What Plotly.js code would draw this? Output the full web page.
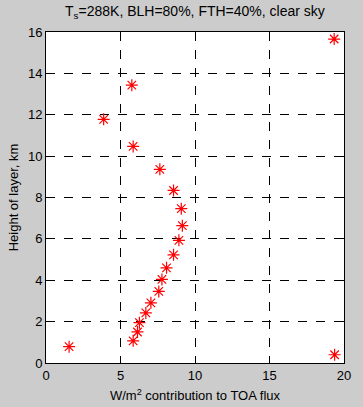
<!DOCTYPE html>
<html>
<head>
<meta charset="utf-8">
<script src="https://cdn.plot.ly/plotly-3.0.1.min.js"></script>
<style>html,body{margin:0;padding:0;background:#cccccc;}#chart{width:363px;height:407px;}</style>
</head>
<body>
<div id="chart"></div>
<script>
var contribution = [19.34, 5.76, 3.87, 5.85, 7.64, 8.56, 9.08, 9.15, 8.92, 8.56, 8.09, 7.78, 7.57, 7.04, 6.70, 6.27, 6.14, 5.85, 1.55, 19.37];
var layerHeight = [15.66, 13.43, 11.78, 10.47, 9.36, 8.34, 7.46, 6.64, 5.93, 5.23, 4.60, 4.04, 3.46, 2.91, 2.42, 1.95, 1.50, 1.07, 0.79, 0.40];
var xTicks = [0, 5, 10, 15, 20];
var yTicks = [0, 2, 4, 6, 8, 10, 12, 14, 16];

var fam = 'Liberation Sans, Arial, sans-serif';
var tickFont = {family: fam, size: 13, color: '#000'};
var labelFont = {family: fam, size: 13, color: '#000'};
var trace = {
  x: contribution, y: layerHeight, type: 'scatter', mode: 'markers',
  marker: {symbol: 'asterisk-open', size: 10, color: '#ff0000', line: {color: '#ff0000', width: 1.2}},
  hoverinfo: 'none'
};
var axisCommon = {
  showline: true, linecolor: '#000', linewidth: 1, mirror: 'ticks',
  ticks: 'inside', ticklen: 4, tickcolor: '#000',
  showgrid: true, gridcolor: '#000', griddash: 'dash', gridwidth: 1,
  zeroline: false, tickfont: tickFont, fixedrange: true
};
var layout = {
  width: 363, height: 407,
  margin: {l: 46, r: 19, t: 32, b: 44},
  paper_bgcolor: '#cccccc', plot_bgcolor: '#ffffff',
  showlegend: false,
  font: tickFont,
  title: {text: 'T<sub>s</sub>=288K, BLH=80%, FTH=40%, clear sky', font: {family: fam, size: 14, color: '#000'}, x: 0.537, xanchor: 'center', y: 0.972, yanchor: 'middle'},
  xaxis: Object.assign({}, axisCommon, {range: [0, 20], tickvals: xTicks, ticktext: xTicks.map(String),
    title: {text: 'W/m<sup>2</sup> contribution to TOA flux', font: labelFont, standoff: 9}}),
  yaxis: Object.assign({}, axisCommon, {range: [0, 16], tickvals: yTicks, ticktext: yTicks.map(String),
    title: {text: 'Height of layer, km', font: labelFont, standoff: 6}})
};
Plotly.newPlot('chart', [trace], layout, {displayModeBar: false, staticPlot: true});
</script>
</body>
</html>
